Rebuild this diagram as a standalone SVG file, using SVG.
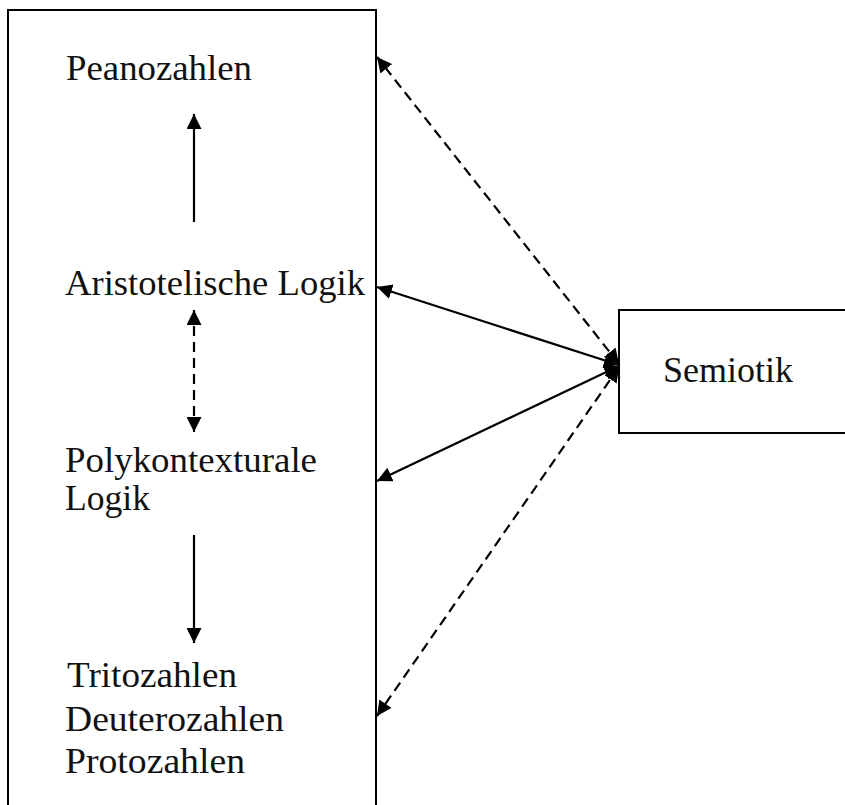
<svg xmlns="http://www.w3.org/2000/svg" width="845" height="805" viewBox="0 0 845 805">
<style>
  .box{fill:#fff;stroke:#000;stroke-width:2}
  .t{font-family:"Liberation Serif","Times New Roman",serif;font-size:35px;fill:#111}
  .c{stroke:#000;stroke-width:2.2;fill:none}
  .d{stroke-dasharray:10 6}
</style>
<defs>
  <marker id="ah" viewBox="0 0 15 15" refX="15" refY="7.5" markerWidth="15" markerHeight="15" markerUnits="userSpaceOnUse" orient="auto-start-reverse">
    <path d="M0,0 L15,7.5 L0,15 z" fill="#000"/>
  </marker>
</defs>
<rect width="845" height="805" fill="#fff"/>
<g id="left-box">
  <rect class="box" x="8" y="10" width="368" height="820"/>
</g>
<g id="peanozahlen">
  <text class="t" x="66" y="80" textLength="186" lengthAdjust="spacingAndGlyphs">Peanozahlen</text>
</g>
<g id="aristotelische-logik">
  <text class="t" x="65" y="295" textLength="300" lengthAdjust="spacingAndGlyphs">Aristotelische Logik</text>
</g>
<g id="polykontexturale-logik">
  <text class="t" x="65" y="472" textLength="252" lengthAdjust="spacingAndGlyphs">Polykontexturale</text>
  <text class="t" x="65" y="510" textLength="85" lengthAdjust="spacingAndGlyphs">Logik</text>
</g>
<g id="zahlen">
  <text class="t" x="67" y="687" textLength="170" lengthAdjust="spacingAndGlyphs">Tritozahlen</text>
  <text class="t" x="65" y="731" textLength="219" lengthAdjust="spacingAndGlyphs">Deuterozahlen</text>
  <text class="t" x="65" y="773" textLength="180" lengthAdjust="spacingAndGlyphs">Protozahlen</text>
</g>
<g id="semiotik">
  <rect class="box" x="619" y="310" width="240" height="123"/>
  <text class="t" x="663" y="382" textLength="130" lengthAdjust="spacingAndGlyphs">Semiotik</text>
</g>
<g id="connectors">
  <line class="c" x1="194" y1="222" x2="194" y2="114" marker-end="url(#ah)"/>
  <line class="c d" x1="194" y1="310" x2="194" y2="432" marker-start="url(#ah)" marker-end="url(#ah)"/>
  <line class="c" x1="194" y1="535" x2="194" y2="643" marker-end="url(#ah)"/>
  <line class="c d" x1="619" y1="364" x2="377" y2="57" marker-start="url(#ah)" marker-end="url(#ah)"/>
  <line class="c" x1="619" y1="365" x2="377" y2="287" marker-start="url(#ah)" marker-end="url(#ah)"/>
  <line class="c" x1="619" y1="366" x2="377" y2="481" marker-start="url(#ah)" marker-end="url(#ah)"/>
  <line class="c d" x1="619" y1="367" x2="377" y2="716" marker-start="url(#ah)" marker-end="url(#ah)"/>
</g>
</svg>
